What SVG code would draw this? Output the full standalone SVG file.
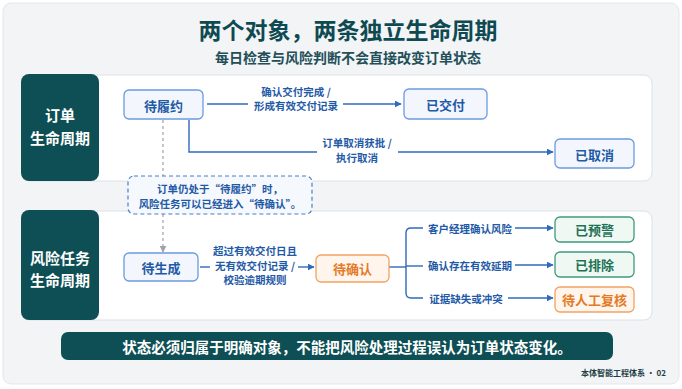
<svg xmlns="http://www.w3.org/2000/svg" width="682" height="389" viewBox="0 0 682 389">
<style>
text{font-family:"Noto Sans CJK SC","Noto Sans",sans-serif;font-weight:700;dominant-baseline:central;text-anchor:middle}
.title{font-size:23px;fill:#0f4a52}
.sub{font-size:14px;fill:#234f58;font-weight:600}
.panel{fill:#ffffff;stroke:#dce1e7;stroke-width:1}
.lab{fill:#0e4f55}
.labt{font-size:15px;fill:#ffffff}
.nb{fill:#f3f7fd;stroke:#6b9be0;stroke-width:1.3}
.nbt{font-size:13px;fill:#1f5aa6}
.no{fill:#fff5ec;stroke:#f0a461;stroke-width:1.3}
.not{font-size:13px;fill:#e57a26}
.ng{fill:#f0f8f4;stroke:#3f9a7c;stroke-width:1.3}
.ngt{font-size:13px;fill:#1c7355}
.el{font-size:10.5px;fill:#1f5aa6}
.ln{fill:none;stroke:#2f6abc;stroke-width:1.4}
.dl{fill:none;stroke:#a0a4aa;stroke-width:1.2;stroke-dasharray:3 3}
</style>
<defs>
<marker id="ab" viewBox="0 0 10 10" refX="9" refY="5" markerWidth="7" markerHeight="7" markerUnits="userSpaceOnUse" orient="auto"><path d="M0,0 L10,5 L0,10 z" fill="#2f6abc"/></marker>
<marker id="ag" viewBox="0 0 10 10" refX="9" refY="5" markerWidth="7" markerHeight="7" markerUnits="userSpaceOnUse" orient="auto"><path d="M0,0 L10,5 L0,10 z" fill="#a0a4aa"/></marker>
</defs>
<rect x="0" y="0" width="682" height="389" fill="#ffffff"/>
<rect x="3" y="3" width="676" height="381" rx="8" fill="#f2f4f6" stroke="#e4e7eb"/>
<g id="header">
<text class="title" x="348" y="29">两个对象，两条独立生命周期</text>
<text class="sub" x="348" y="57">每日检查与风险判断不会直接改变订单状态</text>
</g>
<g id="panel-order">
<rect class="panel" x="22" y="75" width="630" height="106" rx="8"/>
<rect class="lab" x="21" y="74" width="78" height="107" rx="8"/>
<text class="labt" x="60" y="114">订单</text>
<text class="labt" x="60" y="137">生命周期</text>
</g>
<g id="panel-risk">
<rect class="panel" x="22" y="211" width="630" height="109" rx="8"/>
<rect class="lab" x="21" y="210" width="78" height="110" rx="8"/>
<text class="labt" x="60" y="257">风险任务</text>
<text class="labt" x="60" y="279">生命周期</text>
</g>
<g id="connectors">
<path class="dl" d="M163,120 V176"/>
<path class="dl" d="M163,214 V252" marker-end="url(#ag)"/>
<path class="ln" d="M207,104 H248"/>
<path class="ln" d="M343,104 H401" marker-end="url(#ab)"/>
<path class="ln" d="M189,120 V152 H317"/>
<path class="ln" d="M398,152 H553" marker-end="url(#ab)"/>
<path class="ln" d="M200,267 H210"/>
<path class="ln" d="M298,267 H314" marker-end="url(#ab)"/>
<path class="ln" d="M389,267 H406"/>
<path class="ln" d="M423,228 H411 Q406,228 406,233 V293 Q406,298 411,298 H423"/>
<path class="ln" d="M406,266 H423"/>
<path class="ln" d="M515,228 H553" marker-end="url(#ab)"/>
<path class="ln" d="M515,265 H553" marker-end="url(#ab)"/>
<path class="ln" d="M508,298 H553" marker-end="url(#ab)"/>
<text class="el" x="296" y="91">确认交付完成 /</text>
<text class="el" x="296" y="105">形成有效交付记录</text>
<text class="el" x="357" y="142">订单取消获批 /</text>
<text class="el" x="357" y="157">执行取消</text>
<text class="el" x="255" y="250">超过有效交付日且</text>
<text class="el" x="255" y="265">无有效交付记录 /</text>
<text class="el" x="255" y="279">校验逾期规则</text>
<text class="el" x="470" y="228">客户经理确认风险</text>
<text class="el" x="470" y="265">确认存在有效延期</text>
<text class="el" x="466" y="298">证据缺失或冲突</text>
</g>
<g id="note">
<rect x="128" y="176" width="184" height="38" rx="6" fill="#f5f8fc" stroke="#4a7fc8" stroke-width="1.2" stroke-dasharray="4 3"/>
<text class="el" x="220" y="188">订单仍处于“待履约”时，</text>
<text class="el" x="220" y="203">风险任务可以已经进入“待确认”。</text>
</g>
<g id="n-pending"><rect class="nb" x="124" y="90" width="79" height="29" rx="5"/><text class="nbt" x="163.5" y="105">待履约</text></g>
<g id="n-delivered"><rect class="nb" x="404" y="89" width="83" height="30" rx="5"/><text class="nbt" x="445.5" y="104">已交付</text></g>
<g id="n-cancelled"><rect class="nb" x="555" y="139" width="79" height="29" rx="5"/><text class="nbt" x="594.5" y="154">已取消</text></g>
<g id="n-generate"><rect class="nb" x="124" y="253" width="74" height="28" rx="5"/><text class="nbt" x="161" y="267.5">待生成</text></g>
<g id="n-confirm"><rect class="no" x="316" y="255" width="73" height="27" rx="5"/><text class="not" x="352.5" y="268.5">待确认</text></g>
<g id="n-warned"><rect class="ng" x="555" y="217" width="79" height="25" rx="5"/><text class="ngt" x="594.5" y="229.5">已预警</text></g>
<g id="n-excluded"><rect class="ng" x="555" y="252" width="79" height="25" rx="5"/><text class="ngt" x="594.5" y="264.5">已排除</text></g>
<g id="n-review"><rect class="no" x="555" y="287" width="79" height="25" rx="5"/><text class="not" x="594.5" y="299.5">待人工复核</text></g>
<g id="banner">
<rect x="61" y="332" width="552" height="28" rx="7" fill="#0e4f55"/>
<text x="347" y="346.5" style="font-size:14.5px;fill:#ffffff">状态必须归属于明确对象，不能把风险处理过程误认为订单状态变化。</text>
</g>
<text x="666" y="372" style="font-size:8px;fill:#1e3f47;text-anchor:end">本体智能工程体系 · 02</text>
</svg>
